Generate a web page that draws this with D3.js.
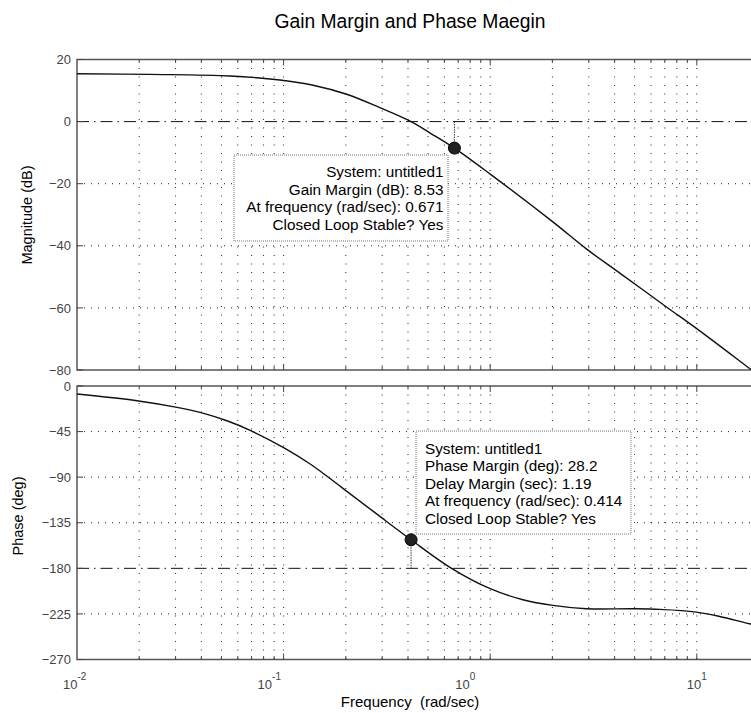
<!DOCTYPE html>
<html>
<head>
<meta charset="utf-8">
<script src="https://cdn.jsdelivr.net/npm/d3@7"></script>
<style>
  body { margin: 0; background: #fff; }
  svg { font-family: "Liberation Sans", Arial, Helvetica, sans-serif; }
</style>
</head>
<body>
<script>
// values
const magFreq  = [0.01, 0.0225, 0.055, 0.096, 0.139, 0.202, 0.292, 0.414, 0.51, 0.671, 1.0, 2.01, 2.92, 4.24, 7.13, 9.95, 18.0, 20];
const magDb    = [15.4, 15.2, 14.7, 13.4, 11.7, 8.8, 4.5, 0.0, -3.6, -8.53, -16.9, -32.3, -41.0, -48.8, -59.7, -66.6, -79.5, -81.8];
const phaseFreq = [0.01, 0.0195, 0.0305, 0.041, 0.0532, 0.0689, 0.1, 0.1345, 0.195, 0.283, 0.414, 0.65, 1.0, 1.44, 2.01, 2.92, 4.91, 6.62, 9.95, 12.9, 18.0, 20];
const phaseDeg  = [-7.9, -14.5, -21.1, -27.0, -34.3, -43.8, -60.8, -77.0, -101.5, -126.5, -151.8, -180.0, -200.1, -211.0, -216.6, -219.9, -219.9, -220.5, -223.2, -227.5, -234.7, -236.5];

const magTicks = [20, 0, -20, -40, -60, -80];
const phaseTicks = [0, -45, -90, -135, -180, -225, -270];
const decades = [0.01, 0.1, 1, 10];
const decadeExp = ["-2", "-1", "0", "1"];
const decadeLabelShift = [-14, -26, -35, -10];

const gmFreq = 0.671, gmDb = -8.53;
const pmFreq = 0.414, pmDeg = -151.8;
const gmText = ["System: untitled1", "Gain Margin (dB): 8.53", "At frequency (rad/sec): 0.671", "Closed Loop Stable? Yes"];
const pmText = ["System: untitled1", "Phase Margin (deg): 28.2", "Delay Margin (sec): 1.19", "At frequency (rad/sec): 0.414", "Closed Loop Stable? Yes"];

const W = 751, H = 713;
const left = 77, right = 759;
const magTop = 59.5, magBottom = 370;
const phTop = 386, phBottom = 659.5;

const svg = d3.select('body').append('svg')
  .attr('width', W).attr('height', H);

svg.append('defs').append('clipPath').attr('id', 'clipMag')
  .append('rect').attr('x', left).attr('y', magTop).attr('width', right - left).attr('height', magBottom - magTop);
svg.select('defs').append('clipPath').attr('id', 'clipPh')
  .append('rect').attr('x', left).attr('y', phTop).attr('width', right - left).attr('height', phBottom - phTop);

const x = d3.scaleLog().domain([0.01, 20]).range([left, right]);
const yMag = d3.scaleLinear().domain([-80, 20]).range([magBottom, magTop]);
const yPh = d3.scaleLinear().domain([-270, 0]).range([phBottom, phTop]);

// every 1..9 x decade for the log grid
const gridFreqs = [];
decades.forEach(d => { for (let k = 1; k <= 9; k++) { if (d * k <= 20) gridFreqs.push(d * k); } });

function panel(y, ticks, top, bottom, refVal, clipId, freqs, vals) {
  const g = svg.append('g');
  // vertical grid
  g.selectAll('.vg').data(gridFreqs.filter(f => f > 0.01)).join('line')
    .attr('x1', d => x(d)).attr('x2', d => x(d))
    .attr('y1', top).attr('y2', bottom)
    .attr('stroke', '#222').attr('stroke-width', 1)
    .attr('stroke-dasharray', '1,7.5');
  // horizontal grid
  g.selectAll('.hg').data(ticks.filter(t => t !== refVal && t !== y.domain()[0] && t !== y.domain()[1])).join('line')
    .attr('x1', left).attr('x2', right)
    .attr('y1', d => y(d)).attr('y2', d => y(d))
    .attr('stroke', '#222').attr('stroke-width', 1)
    .attr('stroke-dasharray', '1,6');
  // reference line (0 dB / -180 deg), dash-dot
  g.append('line')
    .attr('x1', left).attr('x2', right)
    .attr('y1', y(refVal)).attr('y2', y(refVal))
    .attr('stroke', '#111').attr('stroke-width', 1)
    .attr('stroke-dasharray', '12,5,1.5,5');

  // box
  g.append('rect')
    .attr('x', left).attr('y', top).attr('width', right - left).attr('height', bottom - top)
    .attr('fill', 'none').attr('stroke', '#555').attr('stroke-width', 1.5);

  // ticks inside
  g.selectAll('.yt').data(ticks).join('line')
    .attr('x1', left).attr('x2', left + 6)
    .attr('y1', d => y(d)).attr('y2', d => y(d))
    .attr('stroke', '#444');
  g.selectAll('.xtb').data(gridFreqs.filter(f => f > 0.01)).join('line')
    .attr('x1', d => x(d)).attr('x2', d => x(d))
    .attr('y1', bottom).attr('y2', d => bottom - (decades.includes(d) ? 6 : 3.5))
    .attr('stroke', '#444');
  g.selectAll('.xtt').data(gridFreqs.filter(f => f > 0.01)).join('line')
    .attr('x1', d => x(d)).attr('x2', d => x(d))
    .attr('y1', top).attr('y2', d => top + (decades.includes(d) ? 6 : 3.5))
    .attr('stroke', '#444');

  // y tick labels
  g.selectAll('.yl').data(ticks).join('text')
    .attr('x', left - 6).attr('y', d => y(d))
    .attr('dy', '0.36em')
    .attr('text-anchor', 'end')
    .attr('font-size', 13).attr('fill', '#444')
    .text(d => d3.format('d')(d));

  // curve
  const line = d3.line()
    .x((d, i) => x(freqs[i]))
    .y(d => y(d))
    .curve(d3.curveCatmullRom.alpha(0.5));
  g.append('path')
    .datum(vals)
    .attr('clip-path', `url(#${clipId})`)
    .attr('d', line)
    .attr('fill', 'none').attr('stroke', '#111').attr('stroke-width', 1.4);
  return g;
}

const gMag = panel(yMag, magTicks, magTop, magBottom, 0, 'clipMag', magFreq, magDb);
const gPh = panel(yPh, phaseTicks, phTop, phBottom, -180, 'clipPh', phaseFreq, phaseDeg);

// gain margin stem + marker
gMag.append('line')
  .attr('x1', x(gmFreq)).attr('x2', x(gmFreq))
  .attr('y1', yMag(0)).attr('y2', yMag(gmDb))
  .attr('stroke', '#333').attr('stroke-dasharray', '1.5,1');
gMag.append('circle')
  .attr('cx', x(gmFreq)).attr('cy', yMag(gmDb)).attr('r', 6)
  .attr('fill', '#222').attr('stroke', '#000');

// phase margin stem + marker
gPh.append('line')
  .attr('x1', x(pmFreq)).attr('x2', x(pmFreq))
  .attr('y1', yPh(pmDeg)).attr('y2', yPh(-180))
  .attr('stroke', '#333').attr('stroke-dasharray', '1.5,1');
gPh.append('circle')
  .attr('cx', x(pmFreq)).attr('cy', yPh(pmDeg)).attr('r', 6)
  .attr('fill', '#222').attr('stroke', '#000');

// data tip boxes
function tip(bx, by, bw, bh, lines, tx, ty0, anchor) {
  const g = svg.append('g');
  g.append('rect')
    .attr('x', bx).attr('y', by).attr('width', bw).attr('height', bh)
    .attr('fill', '#fff').attr('stroke', '#777').attr('stroke-dasharray', '1,1');
  g.selectAll('text').data(lines).join('text')
    .attr('x', tx).attr('y', (d, i) => ty0 + i * 17.5)
    .attr('text-anchor', anchor)
    .attr('font-size', 15.3).attr('fill', '#000')
    .text(d => d);
}
tip(234, 155, 214, 86, gmText, 443.5, 177, 'end');
tip(416, 431, 215, 103, pmText, 425, 453.5, 'start');

// x tick labels 10^n
const xl = svg.append('g');
decades.forEach((d, i) => {
  const t = xl.append('text')
    .attr('x', x(d) + decadeLabelShift[i]).attr('y', 689)
    .attr('font-size', 13).attr('fill', '#444');
  t.append('tspan').text('10');
  t.append('tspan').attr('dy', -9).attr('font-size', 10).text(decadeExp[i]);
});

// titles and labels
svg.append('text')
  .attr('x', 410).attr('y', 28)
  .attr('text-anchor', 'middle')
  .attr('font-size', 19.3)
  .text('Gain Margin and Phase Maegin');

svg.append('text')
  .attr('x', 410).attr('y', 707)
  .attr('text-anchor', 'middle')
  .attr('font-size', 15)
  .attr('xml:space', 'preserve')
  .text('Frequency  (rad/sec)');

svg.append('text')
  .attr('transform', 'translate(32,215) rotate(-90)')
  .attr('text-anchor', 'middle')
  .attr('font-size', 14.5)
  .text('Magnitude (dB)');

svg.append('text')
  .attr('transform', 'translate(23,516) rotate(-90)')
  .attr('text-anchor', 'middle')
  .attr('font-size', 14.5)
  .text('Phase (deg)');
</script>
</body>
</html>
